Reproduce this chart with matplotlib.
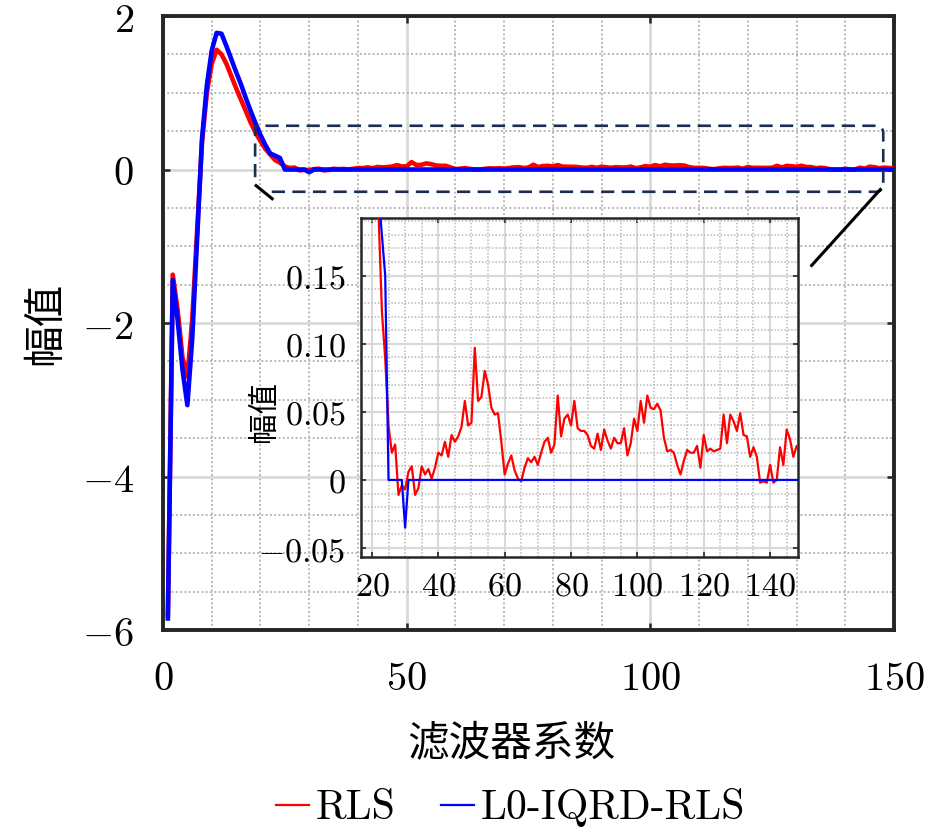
import matplotlib
matplotlib.use("Agg")
import matplotlib.pyplot as plt
from matplotlib.ticker import MultipleLocator, FixedLocator, FixedFormatter, FuncFormatter
import numpy as np

plt.rcParams["mathtext.fontset"] = "cm"

# filter coefficient index
coef = np.arange(1, 151)

rls = [
    -5.80, -1.37, -1.83, -2.45, -2.70, -1.95, -0.80, 0.35, 1.00, 1.38,
    1.56, 1.50, 1.38, 1.22, 1.06, 0.91, 0.76, 0.61, 0.48, 0.37,
    0.27, 0.195, 0.124, 0.089, 0.040, 0.020, 0.026, -0.011, -0.004, -0.007,
    0.006, 0.010, -0.011, -0.006, 0.010, 0.004, 0.008, 0.001, 0.009, 0.020,
    0.018, 0.028, 0.017, 0.033, 0.028, 0.032, 0.039, 0.058, 0.040, 0.042,
    0.097, 0.058, 0.061, 0.080, 0.070, 0.053, 0.048, 0.049, 0.028, 0.004,
    0.012, 0.018, 0.007, 0.001, -0.001, 0.009, 0.016, 0.013, 0.017, 0.011,
    0.020, 0.028, 0.031, 0.020, 0.026, 0.062, 0.032, 0.045, 0.048, 0.040,
    0.058, 0.038, 0.036, 0.036, 0.033, 0.025, 0.023, 0.034, 0.022, 0.037,
    0.029, 0.023, 0.031, 0.027, 0.027, 0.038, 0.018, 0.027, 0.045, 0.036,
    0.058, 0.042, 0.062, 0.053, 0.052, 0.056, 0.051, 0.031, 0.021, 0.022,
    0.020, 0.011, 0.004, 0.014, 0.022, 0.020, 0.020, 0.025, 0.009, 0.033,
    0.021, 0.023, 0.021, 0.022, 0.023, 0.048, 0.027, 0.048, 0.043, 0.036,
    0.049, 0.033, 0.032, 0.017, 0.024, 0.017, -0.002, -0.001, -0.002, 0.011,
    -0.002, 0.000, 0.024, 0.011, 0.037, 0.030, 0.017, 0.025, 0.020, 0.015,
]

l0_iqrd_rls = [
    -5.85, -1.44, -1.96, -2.61, -3.07, -2.20, -0.90, 0.40, 1.10, 1.55,
    1.78, 1.77, 1.61, 1.44, 1.27, 1.11, 0.93, 0.76, 0.60, 0.45,
    0.32, 0.21, 0.18, 0.15, 0.0, 0.0, 0.0, 0.0, 0.0, -0.035,
    0.0, 0.0, 0.0, 0.0, 0.0, 0.0, 0.0, 0.0, 0.0, 0.0,
    0.0, 0.0, 0.0, 0.0, 0.0, 0.0, 0.0, 0.0, 0.0, 0.0,
    0.0, 0.0, 0.0, 0.0, 0.0, 0.0, 0.0, 0.0, 0.0, 0.0,
    0.0, 0.0, 0.0, 0.0, 0.0, 0.0, 0.0, 0.0, 0.0, 0.0,
    0.0, 0.0, 0.0, 0.0, 0.0, 0.0, 0.0, 0.0, 0.0, 0.0,
    0.0, 0.0, 0.0, 0.0, 0.0, 0.0, 0.0, 0.0, 0.0, 0.0,
    0.0, 0.0, 0.0, 0.0, 0.0, 0.0, 0.0, 0.0, 0.0, 0.0,
    0.0, 0.0, 0.0, 0.0, 0.0, 0.0, 0.0, 0.0, 0.0, 0.0,
    0.0, 0.0, 0.0, 0.0, 0.0, 0.0, 0.0, 0.0, 0.0, 0.0,
    0.0, 0.0, 0.0, 0.0, 0.0, 0.0, 0.0, 0.0, 0.0, 0.0,
    0.0, 0.0, 0.0, 0.0, 0.0, 0.0, 0.0, 0.0, 0.0, 0.0,
    0.0, 0.0, 0.0, 0.0, 0.0, 0.0, 0.0, 0.0, 0.0, 0.0,
]

series_names = ["RLS", "L0-IQRD-RLS"]
series_colors = ["#ff0000", "#0000ff"]

main_xticks = [0, 50, 100, 150]
main_yticks = [-6, -4, -2, 0, 2]
inset_xticks = [20, 40, 60, 80, 100, 120, 140]
inset_yticks = [-0.05, 0, 0.05, 0.10, 0.15]
inset_yticklabels = ["-0.05", "0", "0.05", "0.10", "0.15"]

frame_color = "#262626"
cjk = "Noto Sans CJK SC"


def style_grid(ax, major_lw, minor_lw):
    ax.set_axisbelow(True)
    ax.grid(which="major", color="#d9d9d9", lw=major_lw, ls="-")
    ax.grid(which="minor", color="#b8b8b8", lw=minor_lw, ls=(0, (1, 1.2)))


mathfmt = FuncFormatter(lambda v, p: "$%g$" % v)

fig = plt.figure(figsize=(9.45, 8.39), dpi=100)

# ---- main axes
ax = fig.add_axes([0.1725, 0.2491, 0.7735, 0.7318])
ax.plot(coef, rls, color=series_colors[0], lw=3.3, zorder=3)
ax.plot(coef, l0_iqrd_rls, color=series_colors[1], lw=3.3, zorder=4)
ax.set_xlim(0, 150)
ax.set_ylim(-6, 2)
ax.xaxis.set_major_locator(FixedLocator(main_xticks))
ax.yaxis.set_major_locator(FixedLocator(main_yticks))
ax.xaxis.set_minor_locator(MultipleLocator(10))
ax.yaxis.set_minor_locator(MultipleLocator(0.5))
ax.xaxis.set_major_formatter(mathfmt)
ax.yaxis.set_major_formatter(mathfmt)
style_grid(ax, 2.0, 1.4)
ax.tick_params(which="major", direction="in", length=5, width=1.8, color=frame_color,
               top=True, right=True, labelsize=29, pad=21)
ax.tick_params(which="minor", length=0)
for s in ax.spines.values():
    s.set_linewidth(2.8)
    s.set_color(frame_color)

ax.set_xlabel("滤波器系数", fontsize=30, family=cjk, va="center")
ax.xaxis.set_label_coords(0.477, -0.187)
ax.set_ylabel("幅值", fontsize=30, family=cjk, va="center")
ax.yaxis.set_label_coords(-0.161, 0.5)

# zoom box with rounded right corners
x0, x1, y0, y1 = 18.9, 147.8, -0.29, 0.57
rx, ry = 1.4, 0.09
t = np.linspace(0, np.pi / 2, 10)
box_x = [x0, x0] + list(x1 - rx + rx * np.sin(t)) + list(x1 - rx + rx * np.cos(t)) + [21.8]
box_y = [-0.10, y1] + list(y1 - ry + ry * np.cos(t)) + list(y0 + ry - ry * np.sin(t)) + [y0]
ax.plot(box_x, box_y, color="#1b2d52", lw=1.9, dashes=[5, 2.8], zorder=6, clip_on=False)
ax.plot([19.1, 22.4], [-0.21, -0.38], color="black", lw=2.2, zorder=6)
ax.plot([147.2, 133.1], [-0.26, -1.25], color="black", lw=2.2, zorder=6)

# ---- inset
ins = fig.add_axes([0.3820, 0.3361, 0.4624, 0.4041])
ins.set_facecolor("white")
h_rls, = ins.plot(coef, rls, color=series_colors[0], lw=1.6, zorder=3)
h_l0, = ins.plot(coef, l0_iqrd_rls, color=series_colors[1], lw=1.6, zorder=4)
ins.set_xlim(16.7, 148.4)
ins.set_ylim(-0.0566, 0.1924)
ins.xaxis.set_major_locator(FixedLocator(inset_xticks))
ins.xaxis.set_major_formatter(mathfmt)
ins.yaxis.set_major_locator(FixedLocator(inset_yticks))
ins.yaxis.set_major_formatter(FixedFormatter(["$%s$" % s for s in inset_yticklabels]))
ins.xaxis.set_minor_locator(MultipleLocator(5))
ins.yaxis.set_minor_locator(MultipleLocator(0.01))
style_grid(ins, 1.5, 1.1)
ins.tick_params(which="major", direction="in", length=3.5, width=1.2, color=frame_color,
                top=True, right=True, labelsize=24.5)
ins.tick_params(axis="y", pad=11)
ins.tick_params(axis="x", pad=9)
ins.tick_params(which="minor", length=0)
for s in ins.spines.values():
    s.set_linewidth(1.8)
    s.set_color(frame_color)
ins.set_ylabel("幅值", fontsize=22, family=cjk, va="center")
ins.yaxis.set_label_coords(-0.22, 0.43)

fig.legend(handles=[h_rls, h_l0], labels=series_names, loc="center",
           bbox_to_anchor=(0.540, 0.037), ncol=2, frameon=False,
           prop={"family": "cmr10", "size": 30}, handlelength=0.8,
           handletextpad=0.15, columnspacing=1.1)

fig.savefig("out.png", dpi=100)
